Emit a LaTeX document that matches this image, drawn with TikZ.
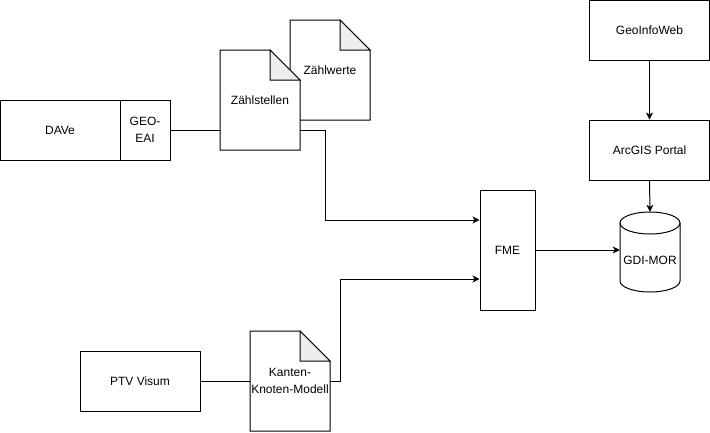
\documentclass[tikz,border=0pt]{standalone}
\usepackage{fontspec}
\setmainfont{Liberation Sans}
\usetikzlibrary{arrows.meta,calc}
\definecolor{foldgray}{HTML}{EEEEEE}
\newcommand\mydoc[4]{%
  \draw[line width=1pt, fill=white, line join=miter] (#2-40,#3-50) -- (#2+10,#3-50) -- (#2+40,#3-20) -- (#2+40,#3+50) -- (#2-40,#3+50) -- cycle;
  \draw[line width=1pt, fill=foldgray, line join=miter] (#2+10,#3-50) -- (#2+10,#3-20) -- (#2+40,#3-20) -- cycle;
  \node[docnode] (#1) at (#2,#3) {#4};
}
\begin{document}
\begin{tikzpicture}[x=1pt,y=-1pt,
  font=\fontsize{12}{17}\selectfont,
  box/.style={draw, line width=1pt, fill=white, inner sep=0pt, align=center},
  docnode/.style={minimum width=80pt, minimum height=100pt, inner sep=0pt, align=center},
  conn/.style={line width=1pt},
  arr/.style={line width=1pt, -{Stealth[length=7pt,width=7pt,inset=2pt]}}]
\fill[white] (0,0) rectangle (710,432);
\useasboundingbox (0,0) rectangle (710,432);

% left part
\node[box, minimum width=120pt, minimum height=60pt] (dave) at (60,130) {DAVe};
\node[box, minimum width=50pt, minimum height=60pt] (eai) at (145,130) {GEO-\\EAI};

\mydoc{zw}{330}{70}{Zählwerte}
\mydoc{zs}{260}{100}{Zählstellen}

\node[box, minimum width=120pt, minimum height=60pt] (ptv) at (140,381) {PTV Visum};
\mydoc{kk}{290}{381}{Kanten-\\Knoten-Modell}

\node[box, minimum width=55pt, minimum height=120pt] (fme) at (507.5,250) {FME};

\node[box, minimum width=120pt, minimum height=60pt] (giw) at (649.5,30.5) {GeoInfoWeb};
\node[box, minimum width=120pt, minimum height=60pt] (arc) at (649.5,150) {ArcGIS Portal};

% cylinder
\draw[line width=1pt, fill=white] (620,223) -- (620,281)
  arc[start angle=180, end angle=0, x radius=30, y radius=11] -- (680,223)
  arc[start angle=0, end angle=-180, x radius=30, y radius=11] -- cycle;
\draw[line width=1pt] (620,223) arc[start angle=180, end angle=0, x radius=30, y radius=11];
\node[minimum width=60pt, minimum height=80pt, inner sep=0pt,
  label={[yshift=-8pt]center:GDI-MOR}] (gdi) at (650,252) {};

% connectors
\draw[conn] (eai.east) -- (eai.east -| zs.west);
\draw[arr] (zs.east |- eai.east) -- ++(25,0) |- ($(fme.west)+(0,-30)$);
\draw[conn] (ptv.east) -- (kk.west);
\draw[arr] (kk.east) -- ++(10,0) |- ($(fme.west)+(0,29)$);
\draw[arr] (fme.east) -- (fme.east -| gdi.west);
\draw[arr] (giw.south) -- (arc.north);
\draw[arr] (arc.south) -- (gdi.north);
\end{tikzpicture}
\end{document}
